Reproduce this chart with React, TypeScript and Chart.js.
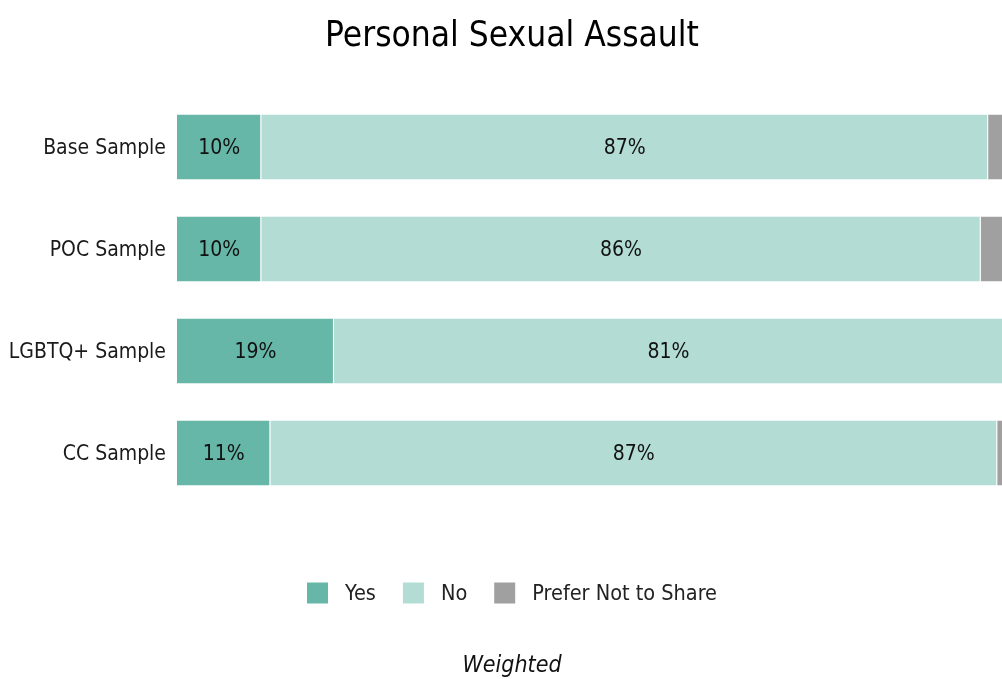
import React, { useEffect, useRef } from "react";
import { Chart, registerables } from "chart.js";

Chart.register(...registerables);

const categories = ["Base Sample", "POC Sample", "LGBTQ+ Sample", "CC Sample"];
const seriesNames = ["Yes", "No", "Prefer Not to Share"];
const yesValues = [10.2, 10.2, 19.0, 11.3];
const noValues = [88.0, 87.1, 81.0, 88.0];
const preferValues = [1.8, 2.7, 0, 0.7];
const yesLabels = ["10%", "10%", "19%", "11%"];
const noLabels = ["87%", "86%", "81%", "87%"];
const titleText = "Personal Sexual Assault";
const footerText = "Weighted";

const COLORS = ["#66b7a7", "#b3dcd4", "#a0a0a0"];
const FONT = "'DejaVu Sans Condensed', 'Liberation Sans', Arial, sans-serif";

export default function App() {
  const ref = useRef<HTMLCanvasElement | null>(null);

  useEffect(() => {
    if (!ref.current) return;
    const labelArrays = [yesLabels, noLabels, null];

    const overlay = {
      id: "overlay",
      afterDatasetsDraw(chart: any) {
        const ctx = chart.ctx;
        const cx = chart.width / 2;
        ctx.save();
        // title
        ctx.font = `35px ${FONT}`;
        ctx.fillStyle = "#000000";
        ctx.textAlign = "center";
        ctx.textBaseline = "alphabetic";
        ctx.fillText(titleText, cx, 46);
        // data labels
        ctx.font = `21px ${FONT}`;
        ctx.fillStyle = "#111111";
        ctx.textAlign = "center";
        ctx.textBaseline = "middle";
        labelArrays.forEach((arr, di) => {
          if (!arr) return;
          const meta = chart.getDatasetMeta(di);
          meta.data.forEach((el: any, i: number) => {
            const p = el.getCenterPoint();
            ctx.fillText(arr[i], p.x, p.y + 2);
          });
        });
        // legend
        const boxW = 21;
        const gapText = 17;
        const gapItem = 27;
        ctx.font = `21.5px ${FONT}`;
        const widths = seriesNames.map((s) => ctx.measureText(s).width);
        let total = 0;
        widths.forEach((w, i) => {
          total += boxW + gapText + w + (i < widths.length - 1 ? gapItem : 0);
        });
        let x = cx - total / 2;
        const cy = 593;
        ctx.textAlign = "left";
        seriesNames.forEach((s, i) => {
          ctx.fillStyle = COLORS[i];
          ctx.fillRect(x, cy - boxW / 2, boxW, boxW);
          x += boxW + gapText;
          ctx.fillStyle = "#222222";
          ctx.fillText(s, x, cy + 1);
          x += widths[i] + gapItem;
        });
        // footer
        ctx.font = `italic 23px ${FONT}`;
        ctx.textAlign = "center";
        ctx.textBaseline = "alphabetic";
        ctx.fillStyle = "#111111";
        ctx.fillText(footerText, cx, 672);
        ctx.restore();
      },
    };

    const chart = new Chart(ref.current, {
      type: "bar",
      data: {
        labels: categories,
        datasets: [
          { label: seriesNames[0], data: yesValues, backgroundColor: COLORS[0] },
          { label: seriesNames[1], data: noValues, backgroundColor: COLORS[1] },
          { label: seriesNames[2], data: preferValues, backgroundColor: COLORS[2] },
        ].map((d) => ({
          ...d,
          borderWidth: 1,
          borderColor: "rgba(255,255,255,0.12)",
          barPercentage: 0.65,
          categoryPercentage: 1.0,
        })),
      },
      options: {
        indexAxis: "y",
        animation: false,
        responsive: true,
        maintainAspectRatio: false,
        layout: { padding: { top: 96, left: 0, right: 21, bottom: 175 } },
        plugins: {
          legend: { display: false },
          tooltip: { enabled: false },
          title: { display: false },
        },
        scales: {
          x: { stacked: true, min: 0, max: 100, display: false },
          y: {
            stacked: true,
            grid: { display: false, drawTicks: false },
            border: { display: false },
            ticks: {
              color: "#1a1a1a",
              font: { family: FONT, size: 21 },
              padding: 11,
              labelOffset: 2,
            },
            afterFit: (axis: any) => {
              axis.width = 177;
            },
          },
        },
      },
      plugins: [overlay],
    } as any);
    return () => chart.destroy();
  }, []);

  return (
    <div
      style={{
        position: "fixed",
        left: 0,
        top: 0,
        width: 1002,
        height: 679,
        overflow: "hidden",
        background: "#ffffff",
      }}
    >
      <div style={{ position: "relative", width: 1024, height: 679 }}>
        <canvas ref={ref} />
      </div>
    </div>
  );
}
